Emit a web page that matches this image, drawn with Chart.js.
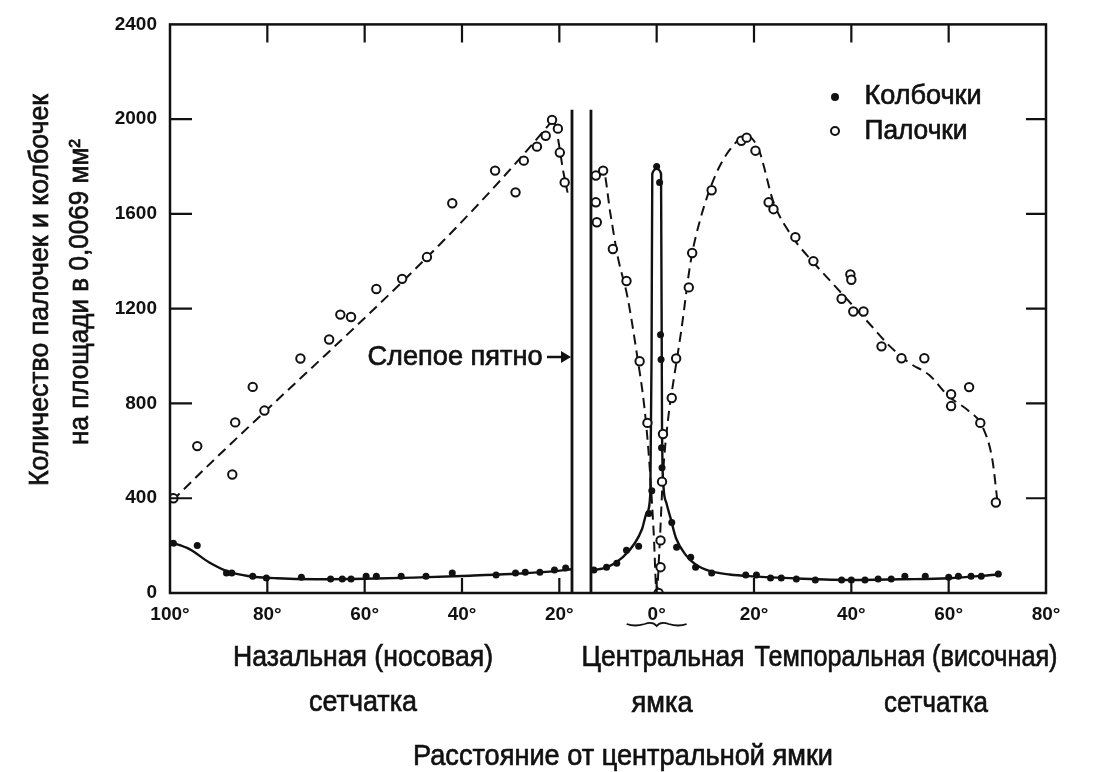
<!DOCTYPE html>
<html>
<head>
<meta charset="utf-8">
<script src="https://cdn.jsdelivr.net/npm/chart.js@4.4.1/dist/chart.umd.min.js"></script>
<style>
  html, body { margin: 0; padding: 0; background: #fff; }
  #wrap { width: 1107px; height: 772px; }
</style>
</head>
<body>
<div id="wrap"><canvas id="retina"></canvas></div>
<script>
// data: x in degrees (nasal side negative), y = count per 0.0069 mm2

// rods (open circles)
const rodX = [-99.3, -94.4, -87.2, -86.6, -83, -80.6, -73.2, -67.3, -65, -62.8, -57.6, -52.3, -47.2, -42,
  -33.2, -29, -27.3, -24.6, -22.8, -21.5, -20.3, -19.9, -18.9,
  -12.5, -11, -12.5, -12.3, -9, -6.2, -3.5, -1.9, 1.3, 1.1, 0.8, 0.8, 0.4, 3.1, 4.0, 6.6, 7.3, 11.3,
  17.4, 18.5, 20.3, 23, 24, 28.5, 32.2, 39.8, 40, 38, 40.4, 42.5, 46.2, 50.3, 55, 60.5, 60.5, 64.2, 66.5, 69.7];
const rodY = [400, 620, 500, 720, 870, 770, 990, 1070, 1175, 1165, 1283, 1326, 1418, 1645,
  1783, 1691, 1825, 1884, 1930, 1997, 1960, 1859, 1733,
  1762, 1783, 1649, 1565, 1452, 1317, 978, 718, 671, 470, 222, 109, 0, 823, 990, 1290, 1435, 1700,
  1909, 1922, 1867, 1649, 1620, 1502, 1401, 1345, 1322, 1242, 1188, 1188, 1041, 991, 991, 839, 789, 869, 718, 382];

// cones (filled dots)
const coneX = [-99.3, -94.4, -88.4, -87.3, -83, -80.2, -73, -67, -64.6, -62.8, -59.7, -57.6, -52.5, -47.4, -42,
  -33, -29, -27, -24, -21, -18.7,
  -12.9, -10.3, -8.2, -6.2, -3.7, -1.6, -1.0,
  0, 0.6, 0.8, 0.9, 1.0, 1.1,
  3.1, 4.1, 7, 8, 11.3, 18.3, 20.5, 23.4, 25.6, 28.7, 32.6, 38, 40, 42.8, 45.5, 48.2, 51, 55.2, 60, 62, 64.6, 66.7, 70.2];
const coneY = [210, 201, 84, 84, 71, 63, 67, 59, 59, 59, 71, 71, 71, 71, 84,
  76, 84, 88, 88, 97, 105,
  97, 109, 126, 180, 197, 336, 432,
  1800, 1733, 1090, 986, 613, 529,
  298, 193, 151, 109, 84, 76, 76, 63, 63, 59, 55, 55, 55, 55, 59, 59, 71, 71, 67, 71, 71, 71, 80];

// fitted curves as drawn in the figure (null = break at the blind spot)
const coneFitX = [-100, -96, -92, -88, -84, -78, -70, -60, -50, -40, -30, -22, -17.4, -15.5,
  -13.5, -10, -7, -4.5, -3, -2, -1.3, -1.05, -0.9, 0, 0.9, 1.1, 1.4, 2, 2.8, 4, 6, 8, 11, 15, 20, 30, 40, 50, 60, 70.2];
const coneFitY = [215, 185, 130, 90, 72, 62, 58, 60, 65, 72, 80, 90, 100, null,
  95, 110, 150, 210, 270, 340, 420, 1000, 1770, 1790, 1770, 700, 450, 380, 320, 230, 160, 120, 92, 78, 70, 60, 55, 58, 62, 78];

const rodFitX = [-99.5, -22, -21.3, -20.3, -19.2, -18.3, -15.5,
  -12.5, -11, -9.5, -8, -6, -4, -2.5, -1.5, -0.6, 0,
  0.6, 1.3, 2.5, 3.5, 5, 7, 9, 12, 15, 18.5, 21, 24, 28, 32, 36, 40, 44, 48, 52, 56, 60, 64, 67, 69, 70];
const rodFitY = [390, 1980, 2000, 1920, 1780, 1690, null,
  1770, 1785, 1600, 1420, 1250, 1000, 780, 550, 250, 0,
  200, 500, 760, 900, 1100, 1400, 1580, 1760, 1870, 1930, 1870, 1650, 1500, 1400, 1310, 1220, 1130, 1040, 970, 920, 830, 770, 700, 560, 390];

// optic disc (blind spot) borders
const blindX = [-17.4, -13.5];
const blindTop = 2040;

const xTicks = [-100, -80, -60, -40, -20, 0, 20, 40, 60, 80];
const yTicks = [0, 400, 800, 1200, 1600, 2000, 2400];

const pts = (xs, ys) => xs.map((x, i) => ({ x: x, y: ys[i] }));

const FONT = '"Liberation Sans", Arial, sans-serif';

// draws text squeezed to a given width (the figure uses a narrow face)
function fitText(ctx, text, x, y, size, width, rot) {
  ctx.save();
  ctx.font = size + 'px ' + FONT;
  const w = ctx.measureText(text).width;
  ctx.translate(x, y);
  if (rot) ctx.rotate(rot);
  ctx.scale(width / w, 1);
  ctx.textAlign = 'center';
  ctx.textBaseline = 'alphabetic';
  ctx.fillStyle = '#111';
  ctx.strokeStyle = '#111';
  ctx.lineWidth = 0.7;
  ctx.fillText(text, 0, 0);
  ctx.strokeText(text, 0, 0);
  ctx.restore();
}

const decor = {
  id: 'decor',
  afterDatasetsDraw(chart) {
    const ctx = chart.ctx;
    const a = chart.chartArea;
    const xs = chart.scales.x, ys = chart.scales.y;
    ctx.save();
    ctx.strokeStyle = '#111';
    ctx.lineWidth = 2.5;
    ctx.strokeRect(a.left, a.top, a.right - a.left, a.bottom - a.top);
    ctx.lineWidth = 2.2;
    ctx.beginPath();
    xs.ticks.forEach(t => {
      if (t.value <= xs.min || t.value >= xs.max) return;
      const px = xs.getPixelForValue(t.value);
      ctx.moveTo(px, a.bottom); ctx.lineTo(px, a.bottom - 15);
      ctx.moveTo(px, a.top); ctx.lineTo(px, a.top + 18);
    });
    ys.ticks.forEach(t => {
      if (t.value <= ys.min || t.value >= ys.max) return;
      const py = ys.getPixelForValue(t.value);
      ctx.moveTo(a.left, py); ctx.lineTo(a.left + 22, py);
      ctx.moveTo(a.right, py); ctx.lineTo(a.right - 20, py);
    });
    ctx.stroke();

    // brace under 0°
    const cx = xs.getPixelForValue(0);
    ctx.lineWidth = 1.8;
    ctx.beginPath();
    ctx.moveTo(cx - 30, a.bottom + 31);
    ctx.quadraticCurveTo(cx - 22, a.bottom + 34, cx - 12, a.bottom + 31);
    ctx.quadraticCurveTo(cx - 4, a.bottom + 28, cx, a.bottom + 33);
    ctx.quadraticCurveTo(cx + 4, a.bottom + 28, cx + 12, a.bottom + 31);
    ctx.quadraticCurveTo(cx + 22, a.bottom + 34, cx + 30, a.bottom + 31);
    ctx.stroke();

    // blind spot label + arrow
    fitText(ctx, 'Слепое пятно', 455, 365, 28, 175);
    const ax = xs.getPixelForValue(blindX[0]) - 1;
    ctx.lineWidth = 2.5;
    ctx.beginPath();
    ctx.moveTo(ax - 24, 357); ctx.lineTo(ax - 6, 357);
    ctx.stroke();
    ctx.fillStyle = '#111';
    ctx.beginPath();
    ctx.moveTo(ax, 357); ctx.lineTo(ax - 10, 351); ctx.lineTo(ax - 10, 363);
    ctx.closePath(); ctx.fill();

    // legend
    ctx.beginPath(); ctx.arc(835, 97, 4, 0, Math.PI * 2); ctx.fill();
    ctx.lineWidth = 2;
    ctx.beginPath(); ctx.arc(835, 131, 4, 0, Math.PI * 2); ctx.stroke();
    fitText(ctx, 'Колбочки', 923, 104, 28, 117);
    fitText(ctx, 'Палочки', 916, 139, 28, 103);

    // region captions and axis titles
    fitText(ctx, 'Назальная (носовая)', 363, 666, 30, 260);
    fitText(ctx, 'сетчатка', 363, 711, 30, 108);
    fitText(ctx, 'Центральная', 663, 666, 30, 163);
    fitText(ctx, 'ямка', 662, 712, 30, 61);
    fitText(ctx, 'Темпоральная (височная)', 906, 666, 30, 303);
    fitText(ctx, 'сетчатка', 936, 712, 30, 104);
    fitText(ctx, 'Расстояние от центральной ямки', 623, 765, 30, 420);
    fitText(ctx, 'Количество палочек и колбочек', 48, 290, 28, 392, -Math.PI / 2);
    fitText(ctx, 'на площади в 0,0069 мм²', 88, 292, 28, 306, -Math.PI / 2);
    ctx.restore();
  }
};

new Chart(document.getElementById('retina'), {
  type: 'scatter',
  data: {
    datasets: [
      {
        label: 'Колбочки',
        data: pts(coneX, coneY),
        pointRadius: 3.5,
        pointBackgroundColor: '#111',
        pointBorderColor: '#111',
        borderWidth: 0,
        order: 1
      },
      {
        label: 'Палочки',
        data: pts(rodX, rodY),
        pointRadius: 4.2,
        pointBackgroundColor: '#fff',
        pointBorderColor: '#111',
        pointBorderWidth: 2,
        order: 0
      },
      {
        label: 'cone fit',
        data: pts(coneFitX, coneFitY),
        showLine: true,
        spanGaps: false,
        pointRadius: 0,
        borderColor: '#111',
        borderWidth: 2.4,
        cubicInterpolationMode: 'monotone',
        order: 3
      },
      {
        label: 'rod fit',
        data: pts(rodFitX, rodFitY),
        showLine: true,
        spanGaps: false,
        pointRadius: 0,
        borderColor: '#111',
        borderWidth: 2,
        borderDash: [10, 6],
        cubicInterpolationMode: 'monotone',
        order: 3
      },
      {
        label: 'blind1',
        data: [{ x: blindX[0], y: 0 }, { x: blindX[0], y: blindTop }],
        showLine: true, pointRadius: 0, borderColor: '#111', borderWidth: 2.8, order: 4
      },
      {
        label: 'blind2',
        data: [{ x: blindX[1], y: 0 }, { x: blindX[1], y: blindTop }],
        showLine: true, pointRadius: 0, borderColor: '#111', borderWidth: 2.8, order: 4
      }
    ]
  },
  options: {
    responsive: true,
    maintainAspectRatio: false,
    animation: false,
    layout: { padding: { top: 21, right: 61, left: 0, bottom: 0 } },
    plugins: { legend: { display: false }, tooltip: { enabled: false } },
    scales: {
      x: {
        type: 'linear',
        min: -100, max: 80,
        afterFit: s => { s.height = 179; },
        afterBuildTicks: s => { s.ticks = xTicks.map(v => ({ value: v })); },
        grid: { display: false, drawTicks: false },
        border: { display: false },
        ticks: {
          padding: 10,
          color: '#111',
          font: { family: FONT, size: 19, weight: 'bold' },
          callback: v => Math.abs(v) + '°'
        }
      },
      y: {
        type: 'linear',
        min: 0, max: 2400,
        afterFit: s => { s.width = 170; },
        afterBuildTicks: s => { s.ticks = yTicks.map(v => ({ value: v })); },
        grid: { display: false, drawTicks: false },
        border: { display: false },
        ticks: {
          padding: 13,
          color: '#111',
          font: { family: FONT, size: 19, weight: 'bold' },
          callback: v => String(v)
        }
      }
    }
  },
  plugins: [decor]
});
</script>
</body>
</html>
